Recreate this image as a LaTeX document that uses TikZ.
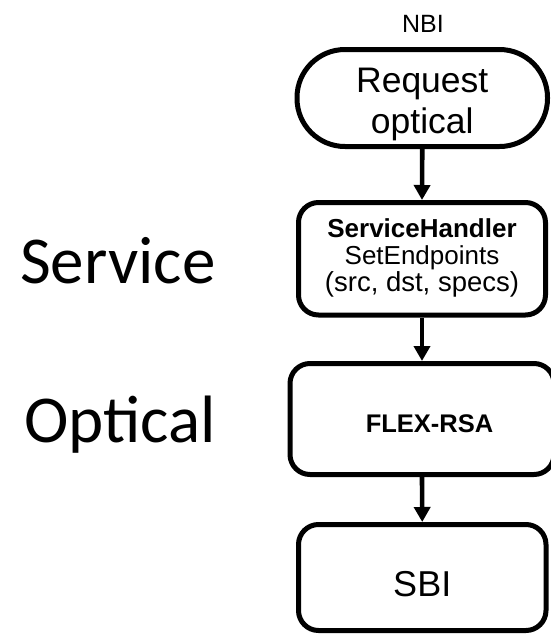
\documentclass[tikz,border=0pt]{standalone}
\usepackage{fontspec}
\setmainfont{Liberation Sans}
\newfontfamily\layerfont{Carlito}
\usetikzlibrary{arrows.meta}

\tikzset{
  flowbox/.style={draw=black, line width=5pt, rounded corners=20pt,
    align=center, inner sep=0pt, fill=white},
  flowarrow/.style={line width=4.6pt, -{Triangle[width=16pt,length=15pt]}},
  layerlabel/.style={anchor=base west, inner sep=0pt,
    font=\layerfont\fontsize{67}{70}\selectfont}
}

\begin{document}
\begin{tikzpicture}[x=1pt,y=-1pt]
  \fill[white] (0,0) rectangle (551,635);
  \useasboundingbox (0,0) rectangle (551,635);
  \clip (0,0) rectangle (551,635);

  % northbound interface caption
  \node[anchor=base, inner sep=0pt, font=\fontsize{25}{28}\selectfont]
    (nbi) at (423,32) {NBI};

  % processing chain; text height/depth fix the last baseline in each box
  \node[flowbox, rounded corners=48pt, minimum width=250.5pt, minimum height=97pt,
        font=\fontsize{35.5}{41}\selectfont, text height=72pt, text depth=2pt]
    (request) at (422.25,98) {Request\\optical};

  \node[flowbox, minimum width=247pt, minimum height=112.5pt,
        font=\fontsize{26}{27}\selectfont, text height=70pt, text depth=5.5pt]
    (handler) at (422,258.75)
    {\textbf{ServiceHandler}\\SetEndpoints\\{\fontsize{27.5}{27}\selectfont(src, dst, specs)}};

  \node[flowbox, minimum width=264pt, minimum height=111pt]
    (rsa) at (422,419) {};
  \node[anchor=base, inner sep=0pt, font=\bfseries\fontsize{25.5}{28}\selectfont]
    (rsatext) at (429.5,432) {FLEX-RSA};

  \node[flowbox, minimum width=247.5pt, minimum height=106pt,
        font=\fontsize{36}{40}\selectfont, text height=37pt, text depth=0pt]
    (sbi) at (422.25,577.5) {SBI};

  \draw[flowarrow] (request.south) -- (handler.north);
  \draw[flowarrow] (handler.south) -- (rsa.north);
  \draw[flowarrow] (rsa.south) -- (sbi.north);

  % layer names
  \node[layerlabel] (service) at (20,283) {Service};
  \node[layerlabel] (optical) at (24,442) {Optical};
\end{tikzpicture}
\end{document}
